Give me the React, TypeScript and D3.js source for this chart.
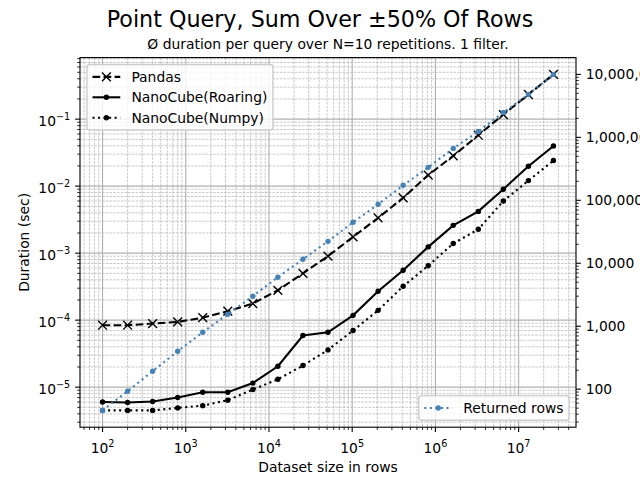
import React, { useEffect, useRef } from "react";
import * as d3 from "d3";

// dataset sizes (rows) on the x axis
const sizes = [
  100, 200, 400, 800, 1600, 3200, 6400, 12800, 25600, 51200, 102400, 204800,
  409600, 819200, 1638400, 3276800, 6553600, 13107200, 26214400,
];

// durations in seconds
const pandas = [
  8.4e-5, 8.4e-5, 8.9e-5, 9.4e-5, 1.09e-4, 1.36e-4, 1.77e-4, 2.79e-4, 5.0e-4,
  9.0e-4, 1.75e-3, 3.35e-3, 6.7e-3, 1.46e-2, 2.83e-2, 5.75e-2, 0.117, 0.233,
  0.465,
];
const roaring = [
  6.0e-6, 5.9e-6, 6.1e-6, 7.0e-6, 8.4e-6, 8.4e-6, 1.15e-5, 2.05e-5, 5.9e-5,
  6.6e-5, 1.18e-4, 2.7e-4, 5.55e-4, 1.24e-3, 2.6e-3, 4.2e-3, 9.0e-3, 1.98e-2,
  3.98e-2,
];
const numpy = [
  4.5e-6, 4.5e-6, 4.5e-6, 4.9e-6, 5.3e-6, 6.4e-6, 9.2e-6, 1.31e-5, 2.1e-5,
  3.6e-5, 7.0e-5, 1.4e-4, 3.2e-4, 6.5e-4, 1.39e-3, 2.27e-3, 6.0e-3, 1.21e-2,
  2.41e-2,
];

// returned rows (right axis)
const returnedRows = [
  46, 93, 193, 400, 800, 1550, 3000, 6000, 11600, 22300, 44800, 86500, 173000,
  334000, 668000, 1240000, 2490000, 4800000, 10000000,
];

const sizeTicks = [1e2, 1e3, 1e4, 1e5, 1e6, 1e7];
const sizeTickExp = ["2", "3", "4", "5", "6", "7"];
const durationTicks = [1e-5, 1e-4, 1e-3, 1e-2, 1e-1];
const durationTickExp = ["\u22125", "\u22124", "\u22123", "\u22122", "\u22121"];
const rowTicks = [1e2, 1e3, 1e4, 1e5, 1e6, 1e7];
const rowTickLabels = ["100", "1,000", "10,000", "100,000", "1,000,000", "10,000,000"];

const FONT = "DejaVu Sans";
const PT = 100 / 72; // px per point at 100 dpi
const FS = 10 * PT;

function logPad(values: number[]): [number, number] {
  const lo = Math.log10(d3.min(values)!);
  const hi = Math.log10(d3.max(values)!);
  const m = (hi - lo) * 0.05;
  return [Math.pow(10, lo - m), Math.pow(10, hi + m)];
}

function minorTicks(domain: number[]) {
  const out: number[] = [];
  const lo = Math.floor(Math.log10(domain[0]));
  const hi = Math.ceil(Math.log10(domain[1]));
  for (let e = lo; e <= hi; e++) {
    for (let k = 2; k <= 9; k++) {
      const v = k * Math.pow(10, e);
      if (v >= domain[0] && v <= domain[1]) out.push(v);
    }
  }
  return out;
}

export default function App() {
  const ref = useRef<SVGSVGElement>(null);

  useEffect(() => {
    const svg = d3.select(ref.current);
    svg.selectAll("*").remove();

    const left = 80, right = 576, top = 57.6, bottom = 427.2;
    const majLen = 3.5 * PT, minLen = 2 * PT, tickPad = 3.5 * PT;

    const x = d3.scaleLog().domain(logPad(sizes)).range([left, right]);
    const y = d3
      .scaleLog()
      .domain(logPad([...pandas, ...roaring, ...numpy]))
      .range([bottom, top]);
    const y2 = d3.scaleLog().domain(logPad(returnedRows)).range([bottom, top]);

    svg.append("rect").attr("width", 640).attr("height", 480).attr("fill", "white");

    // grid
    const grid = svg.append("g");
    minorTicks(x.domain()).forEach((v) => {
      grid.append("line")
        .attr("x1", x(v)).attr("x2", x(v)).attr("y1", top).attr("y2", bottom)
        .attr("stroke", "#b0b0b0").attr("stroke-width", 0.7)
        .attr("stroke-dasharray", "2.6,1.1");
    });
    minorTicks(y.domain()).forEach((v) => {
      grid.append("line")
        .attr("x1", left).attr("x2", right).attr("y1", y(v)).attr("y2", y(v))
        .attr("stroke", "#b0b0b0").attr("stroke-width", 0.7)
        .attr("stroke-dasharray", "2.6,1.1");
    });
    sizeTicks.forEach((v) => {
      grid.append("line")
        .attr("x1", x(v)).attr("x2", x(v)).attr("y1", top).attr("y2", bottom)
        .attr("stroke", "#b0b0b0").attr("stroke-width", 0.8 * PT);
    });
    durationTicks.forEach((v) => {
      grid.append("line")
        .attr("x1", left).attr("x2", right).attr("y1", y(v)).attr("y2", y(v))
        .attr("stroke", "#b0b0b0").attr("stroke-width", 0.8 * PT);
    });

    const lw = 1.5 * PT;
    const dashed = `${3.7 * lw},${1.6 * lw}`;
    const dotted = `${1 * lw},${1.65 * lw}`;

    const series = [
      { name: "Pandas", values: pandas, dash: dashed, marker: "x", color: "black", scale: y },
      { name: "NanoCube(Roaring)", values: roaring, dash: null, marker: "dot", color: "black", scale: y },
      { name: "NanoCube(Numpy)", values: numpy, dash: dotted, marker: "dot", color: "black", scale: y },
    ];
    const blue = { name: "Returned rows", values: returnedRows, dash: dotted, marker: "dot", color: "steelblue", scale: y2 };

    const drawMarker = (g: any, m: string, cx: number, cy: number, color: string) => {
      if (m === "x") {
        const r = 4.4;
        g.append("path")
          .attr("d", `M${cx - r},${cy - r}L${cx + r},${cy + r}M${cx - r},${cy + r}L${cx + r},${cy - r}`)
          .attr("stroke", color).attr("stroke-width", PT).attr("fill", "none");
      } else {
        g.append("circle").attr("cx", cx).attr("cy", cy).attr("r", 2.1)
          .attr("fill", color).attr("stroke", color).attr("stroke-width", 1.2);
      }
    };

    const drawSeries = (s: any) => {
      const g = svg.append("g");
      const line = d3.line<number>()
        .x((_, i) => x(sizes[i]))
        .y((d) => s.scale(d));
      g.append("path")
        .attr("d", line(s.values))
        .attr("fill", "none")
        .attr("stroke", s.color)
        .attr("stroke-width", lw)
        .attr("stroke-dasharray", s.dash);
      s.values.forEach((d: number, i: number) => drawMarker(g, s.marker, x(sizes[i]), s.scale(d), s.color));
    };

    const drawLegend = (items: any[], anchor: string) => {
      const g = svg.append("g");
      const pad = 0.4 * FS, handle = 2 * FS, textPad = 0.8 * FS, rowH = 13.5, gap = 0.5 * FS;
      const box = g.append("rect");
      const texts = items.map((it) =>
        g.append("text").text(it.name).attr("font-family", FONT).attr("font-size", FS).attr("fill", "#000")
      );
      const tw = d3.max(texts, (t: any) => (t.node() as SVGTextElement).getComputedTextLength())!;
      const w = pad * 2 + handle + textPad + tw;
      const h = pad * 2 + items.length * rowH + (items.length - 1) * gap;
      const bx = anchor === "ul" ? left + 0.5 * FS : right - 0.5 * FS - w;
      const by = anchor === "ul" ? top + 0.5 * FS : bottom - 0.5 * FS - h;
      box.attr("x", bx).attr("y", by).attr("width", w).attr("height", h)
        .attr("rx", 2.8).attr("fill", "white").attr("fill-opacity", 0.8)
        .attr("stroke", "#cccccc").attr("stroke-width", PT);
      items.forEach((it, i) => {
        const cy = by + pad + rowH / 2 + i * (rowH + gap);
        const hx = bx + pad;
        g.append("line").attr("x1", hx).attr("x2", hx + handle).attr("y1", cy).attr("y2", cy)
          .attr("stroke", it.color).attr("stroke-width", lw).attr("stroke-dasharray", it.dash);
        drawMarker(g, it.marker, hx + handle / 2, cy, it.color);
        texts[i].attr("x", hx + handle + textPad).attr("y", cy + 5);
      });
    };

    series.forEach(drawSeries);
    drawLegend(series, "ul");
    drawSeries(blue);
    drawLegend([blue], "lr");

    // spines
    svg.append("rect").attr("x", left).attr("y", top)
      .attr("width", right - left).attr("height", bottom - top)
      .attr("fill", "none").attr("stroke", "black").attr("stroke-width", 0.8 * PT);

    const axis = svg.append("g").attr("font-family", FONT).attr("fill", "black");

    // x ticks
    minorTicks(x.domain()).forEach((v) => {
      axis.append("line").attr("x1", x(v)).attr("x2", x(v)).attr("y1", bottom).attr("y2", bottom + minLen)
        .attr("stroke", "black").attr("stroke-width", 0.6 * PT);
    });
    sizeTicks.forEach((v, i) => {
      axis.append("line").attr("x1", x(v)).attr("x2", x(v)).attr("y1", bottom).attr("y2", bottom + majLen)
        .attr("stroke", "black").attr("stroke-width", 0.8 * PT);
      const t = axis.append("text").attr("x", x(v)).attr("y", 452.5)
        .attr("text-anchor", "middle").attr("font-size", FS);
      t.append("tspan").text("10");
      t.append("tspan").attr("dy", -6).attr("font-size", 9.7).text(sizeTickExp[i]);
    });

    // left y ticks
    minorTicks(y.domain()).forEach((v) => {
      axis.append("line").attr("x1", left - minLen).attr("x2", left).attr("y1", y(v)).attr("y2", y(v))
        .attr("stroke", "black").attr("stroke-width", 0.6 * PT);
    });
    durationTicks.forEach((v, i) => {
      axis.append("line").attr("x1", left - majLen).attr("x2", left).attr("y1", y(v)).attr("y2", y(v))
        .attr("stroke", "black").attr("stroke-width", 0.8 * PT);
      const t = axis.append("text").attr("x", left - majLen - tickPad).attr("y", y(v) + 7)
        .attr("text-anchor", "end").attr("font-size", FS);
      t.append("tspan").text("10");
      t.append("tspan").attr("dy", -6).attr("font-size", 9.7).text(durationTickExp[i]);
    });

    // right y ticks
    minorTicks(y2.domain()).forEach((v) => {
      axis.append("line").attr("x1", right).attr("x2", right + minLen).attr("y1", y2(v)).attr("y2", y2(v))
        .attr("stroke", "black").attr("stroke-width", 0.6 * PT);
    });
    rowTicks.forEach((v, i) => {
      axis.append("line").attr("x1", right).attr("x2", right + majLen).attr("y1", y2(v)).attr("y2", y2(v))
        .attr("stroke", "black").attr("stroke-width", 0.8 * PT);
      axis.append("text").attr("x", right + majLen + tickPad).attr("y", y2(v) + 5)
        .attr("font-size", FS).text(rowTickLabels[i]);
    });

    // labels
    axis.append("text").attr("x", (left + right) / 2).attr("y", 472)
      .attr("text-anchor", "middle").attr("font-size", FS).text("Dataset size in rows");
    axis.append("text").attr("transform", `translate(29,${(top + bottom) / 2}) rotate(-90)`)
      .attr("text-anchor", "middle").attr("font-size", FS).text("Duration (sec)");
    axis.append("text").attr("x", (left + right) / 2).attr("y", 48.5)
      .attr("text-anchor", "middle").attr("font-size", FS)
      .text("\u00d8 duration per query over N=10 repetitions. 1 filter.");
    axis.append("text").attr("x", 320).attr("y", 27)
      .attr("text-anchor", "middle").attr("font-size", 16 * PT)
      .text("Point Query, Sum Over \u00b150% Of Rows");
  }, []);

  return (
    <svg
      ref={ref}
      width={640}
      height={480}
      style={{ position: "absolute", left: 0, top: 0 }}
    />
  );
}
